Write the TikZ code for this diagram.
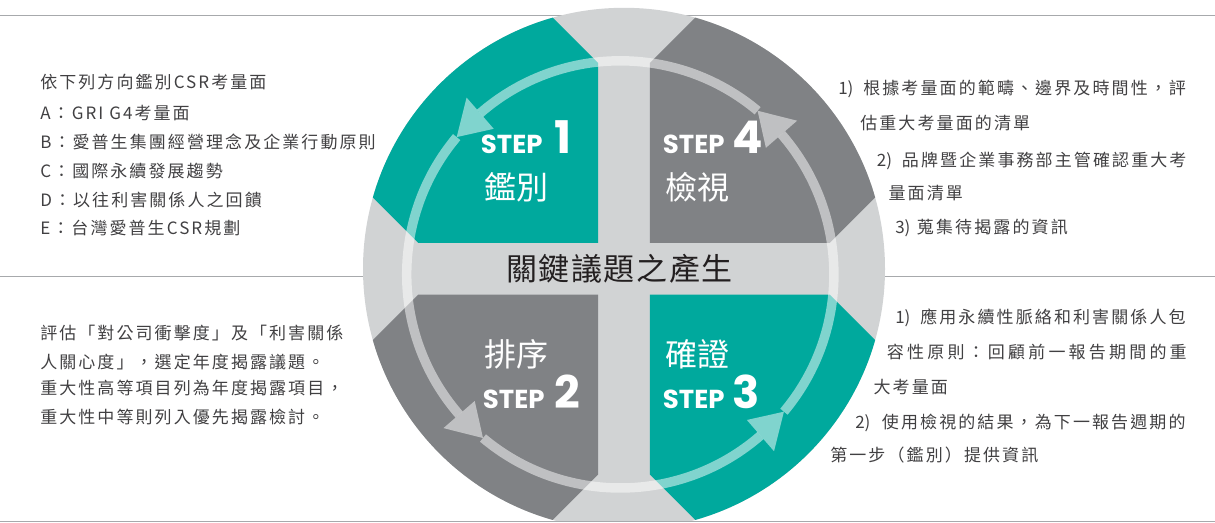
\documentclass[tikz,border=0pt]{standalone}
\usepackage{fontspec}
\newfontfamily\cjkA{Noto Sans CJK TC}[LetterSpace=12.2]
\newfontfamily\cjkB{Noto Sans CJK TC}[LetterSpace=12.4]
\newfontfamily\cjkE{Noto Sans CJK TC}[LetterSpace=18.8]
\newfontfamily\cjkC{Noto Sans CJK TC}[LetterSpace=5]
\newfontfamily\cjkD{Noto Sans CJK TC}
\newfontfamily\stepfont{Poppins}
\newcommand\numbox[2]{\makebox[#1][l]{\cjkD #2}}
\definecolor{qteal}{HTML}{00A99D}
\definecolor{dgray}{HTML}{808285}
\definecolor{lgray}{HTML}{D1D3D4}
\definecolor{rulegray}{HTML}{A7A9AC}
\definecolor{bodytxt}{HTML}{414042}
\definecolor{titletxt}{HTML}{231F20}
\begin{document}
\begin{tikzpicture}[x=0.75pt,y=-0.75pt,
  lefttxt/.style={anchor=base west, inner sep=0pt, text=bodytxt, font=\cjkA\fontsize{12.75pt}{15pt}\selectfont},
  righttxt/.style={anchor=base west, inner sep=0pt, text=bodytxt, font=\cjkB\fontsize{12.75pt}{15pt}\selectfont},
  widetxt/.style={righttxt, font=\cjkE\fontsize{12.75pt}{15pt}\selectfont},
  quadlbl/.style={anchor=base west, inner sep=0pt, text=white, font=\cjkD\fontsize{24pt}{28pt}\selectfont},
  steplbl/.style={anchor=base west, inner sep=0pt, text=white, font=\stepfont\bfseries\fontsize{19.5pt}{22pt}\selectfont},
  stepnum/.style={anchor=base west, inner sep=0pt, text=white, font=\stepfont\bfseries\fontsize{33.75pt}{36pt}\selectfont},
  titlelbl/.style={anchor=base, inner sep=0pt, text=titletxt, font=\cjkC\fontsize{23.25pt}{26pt}\selectfont},
  ringarc/.style={draw=white, draw opacity=0.5, line width=7.1pt},
  ringhead/.style={fill=white, fill opacity=0.5},
  rule/.style={draw=rulegray, line width=0.75pt}]
\useasboundingbox (0,0) rectangle (1215,523);
\draw[rule] (0,15.3) -- (1215,15.3);
\draw[rule] (0,276.7) -- (1215,276.7);
\begin{scope}
  \clip (0,0) rectangle (1215,521);
  \clip (624,268.8) circle[radius=261];
  \fill[lgray] (0,0) rectangle (1215,523);
  \begin{scope}[shift={(624,268.8)}]
    \fill[qteal] (-25.8,-25.8) -- (-25.8,-205.6) -- (-125.8,-305.6) -- (-305.6,-125.8) -- (-205.6,-25.8) -- cycle;
    \fill[dgray] (25.8,-25.8) -- (25.8,-205.6) -- (125.8,-305.6) -- (305.6,-125.8) -- (205.6,-25.8) -- cycle;
    \fill[dgray] (-25.8,25.8) -- (-25.8,205.6) -- (-125.8,305.6) -- (-305.6,125.8) -- (-205.6,25.8) -- cycle;
    \fill[qteal] (25.8,25.8) -- (25.8,205.6) -- (125.8,305.6) -- (305.6,125.8) -- (205.6,25.8) -- cycle;
  \end{scope}
  \begin{scope}[shift={(620.3,274.4)}]
    \draw[ringarc] (-50:213.6) arc[start angle=-50, end angle=-131, radius=213.6];
    \draw[ringarc] (-140:213.6) arc[start angle=-140, end angle=-221, radius=213.6];
    \draw[ringarc] (-230:213.6) arc[start angle=-230, end angle=-311, radius=213.6];
    \draw[ringarc] (-320:213.6) arc[start angle=-320, end angle=-401, radius=213.6];
    \fill[ringhead] (-131:192.9) -- (-131:234.3) -- (-140:213.6) -- cycle;
    \fill[ringhead] (-221:192.9) -- (-221:234.3) -- (-230:213.6) -- cycle;
    \fill[ringhead] (-311:192.9) -- (-311:234.3) -- (-320:213.6) -- cycle;
    \fill[ringhead] (-41:192.9) -- (-41:234.3) -- (-50:213.6) -- cycle;
  \end{scope}
\end{scope}
\draw[rule] (0,521.8) -- (1215,521.8);

\node[titlelbl] (title) at (619.5,280.1) {關鍵議題之產生};

\node[steplbl] (s1) at (480.7,153.3) {STEP};
\node[stepnum] (n1) at (554,153.3) {1};
\node[quadlbl] (q1) at (484,199.7) {鑑別};
\node[steplbl] (s4) at (662.7,153.3) {STEP};
\node[stepnum] (n4) at (732,153.3) {4};
\node[quadlbl] (q4) at (665,199.7) {檢視};
\node[quadlbl] (q2) at (484,366.2) {排序};
\node[steplbl] (s2) at (482.7,408.3) {STEP};
\node[stepnum] (n2) at (554,408.3) {2};
\node[quadlbl] (q3) at (665,366.2) {確證};
\node[steplbl] (s3) at (662.7,408.3) {STEP};
\node[stepnum] (n3) at (732,408.3) {3};

\node[lefttxt] (a0) at (40,88.2) {依下列方向鑑別CSR考量面};
\node[lefttxt] (a1) at (40,119.2) {A：GRI G4考量面};
\node[lefttxt] (a2) at (40,148.2) {B：愛普生集團經營理念及企業行動原則};
\node[lefttxt] (a3) at (40,177.5) {C：國際永續發展趨勢};
\node[lefttxt] (a4) at (40,206.5) {D：以往利害關係人之回饋};
\node[lefttxt] (a5) at (40,234.8) {E：台灣愛普生CSR規劃};

\node[lefttxt] (b1) at (40,339.8) {評估「對公司衝擊度」及「利害關係};
\node[lefttxt] (b2) at (40,368.2) {人關心度」，選定年度揭露議題。};
\node[lefttxt] (b3) at (40,394.8) {重大性高等項目列為年度揭露項目，};
\node[lefttxt] (b4) at (40,423.2) {重大性中等則列入優先揭露檢討。};

\node[righttxt] (c1) at (838,94.8) {\numbox{18.75pt}{1)}根據考量面的範疇、邊界及時間性，評};
\node[righttxt] (c2) at (860,129.8) {估重大考量面的清單};
\node[righttxt] (c3) at (876.7,166.5) {\numbox{18.75pt}{2)}品牌暨企業事務部主管確認重大考};
\node[righttxt] (c4) at (888.3,199.8) {量面清單};
\node[righttxt] (c5) at (895,233.2) {\numbox{16.3pt}{3)}蒐集待揭露的資訊};

\node[righttxt] (d1) at (895,323.2) {\numbox{18.75pt}{1)}應用永續性脈絡和利害關係人包};
\node[widetxt] (d2) at (886.7,358.2) {容性原則：回顧前一報告期間的重};
\node[righttxt] (d3) at (873.3,393.2) {大考量面};
\node[righttxt] (d4) at (855,428.2) {\numbox{20pt}{2)}使用檢視的結果，為下一報告週期的};
\node[righttxt] (d5) at (830,461.5) {第一步（鑑別）提供資訊};
\end{tikzpicture}
\end{document}
